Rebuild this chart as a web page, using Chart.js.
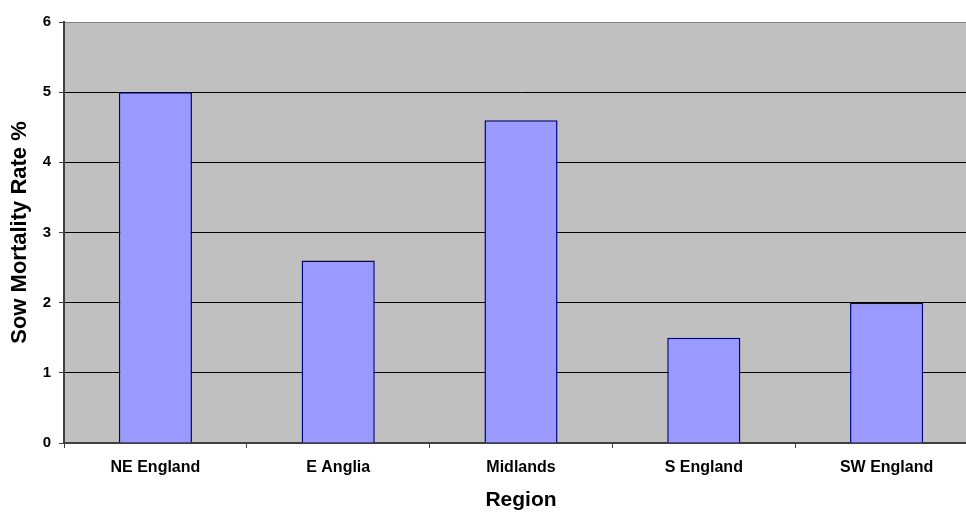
<!DOCTYPE html>
<html lang="en">
<head>
    <meta charset="UTF-8">
    <title>Sow Mortality Rate by Region</title>
    <script src="https://cdn.jsdelivr.net/npm/chart.js"></script>
    <style>
        body {
            margin: 0;
            padding: 0;
            background-color: #fff;
            overflow: hidden;
        }

        /* plot area runs a little past the right edge of the window, as in the original */
        .chart-box {
            position: absolute;
            left: 0;
            top: 0;
            width: 978px;
            height: 514px;
        }
    </style>
</head>
<body>
<div class="chart-box">
    <canvas id="mortalityChart"></canvas>
</div>

<script>
    // Data
    const regions = ['NE England', 'E Anglia', 'Midlands', 'S England', 'SW England'];
    const mortality = [5.0, 2.6, 4.6, 1.5, 2.0];
    const yMin = 0;
    const yMax = 6;
    const yStep = 1;

    // grey plot background like the old Excel charts
    const plotBackground = {
        id: 'plotBackground',
        beforeDraw(chart) {
            const { ctx, chartArea: a } = chart;
            ctx.save();
            ctx.fillStyle = '#c0c0c0';
            ctx.fillRect(a.left, a.top, a.right - a.left, a.bottom - a.top);
            ctx.strokeStyle = '#808080';
            ctx.lineWidth = 1;
            ctx.beginPath();
            ctx.moveTo(a.left, a.top + 0.5);
            ctx.lineTo(a.right, a.top + 0.5);
            ctx.stroke();
            ctx.restore();
        }
    };

    const ctx = document.getElementById('mortalityChart').getContext('2d');
    const mortalityChart = new Chart(ctx, {
        type: 'bar',
        data: {
            labels: regions,
            datasets: [{
                label: 'Sow Mortality Rate %',
                data: mortality,
                backgroundColor: '#9999ff',
                borderColor: '#000080',
                borderWidth: 1.5,
                barPercentage: 0.4,
                categoryPercentage: 1.0
            }]
        },
        options: {
            responsive: true,
            maintainAspectRatio: false,
            animation: false,
            layout: { padding: { top: 22, right: 0, left: 0, bottom: 0 } },
            plugins: {
                legend: { display: false },
                tooltip: { enabled: false }
            },
            scales: {
                x: {
                    offset: true,
                    grid: {
                        offset: true,
                        drawOnChartArea: false,
                        drawTicks: true,
                        tickLength: 5,
                        tickColor: '#404040'
                    },
                    border: { color: '#404040', width: 2 },
                    ticks: {
                        color: '#000',
                        padding: 10,
                        maxRotation: 0,
                        font: { family: 'Arial, "Liberation Sans", sans-serif', size: 16, weight: 'bold' }
                    },
                    title: {
                        display: true,
                        text: 'Region',
                        color: '#000',
                        padding: { top: 0, bottom: 1 },
                        font: { family: 'Arial, "Liberation Sans", sans-serif', size: 21, weight: 'bold' }
                    },
                    afterFit(scale) { scale.height = 71; }
                },
                y: {
                    min: yMin,
                    max: yMax,
                    grid: {
                        color: c => (c.tick && c.tick.value === yMax) ? '#808080' : '#000',
                        lineWidth: 1,
                        drawTicks: true,
                        tickLength: 5,
                        tickColor: '#404040'
                    },
                    border: { color: '#404040', width: 2 },
                    ticks: {
                        stepSize: yStep,
                        color: '#000',
                        padding: 8,
                        font: { family: 'Arial, "Liberation Sans", sans-serif', size: 15, weight: 'bold' }
                    },
                    title: {
                        display: true,
                        text: 'Sow Mortality Rate %',
                        color: '#000',
                        padding: { top: 7, bottom: 0 },
                        font: { family: 'Arial, "Liberation Sans", sans-serif', size: 22, weight: 'bold' }
                    },
                    afterFit(scale) { scale.width = 64; }
                }
            }
        },
        plugins: [plotBackground]
    });
</script>
</body>
</html>
